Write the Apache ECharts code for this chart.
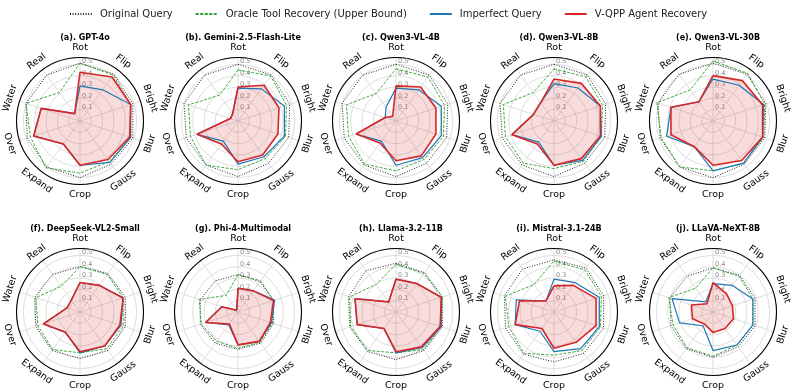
<!DOCTYPE html>
<html>
<head>
<meta charset="utf-8">
<script src="https://cdn.jsdelivr.net/npm/echarts@6/dist/echarts.min.js"></script>
<style>
  html, body { margin: 0; padding: 0; background: #fff; }
  #chart { width: 793px; height: 392px; }
</style>
</head>
<body>
<div id="chart"></div>
<script>
  // axes go clockwise from the top
  const categories = ['Rot', 'Flip', 'Bright', 'Blur', 'Gauss', 'Crop', 'Expand', 'Over', 'Water', 'Real'];
  const models = [
    '(a). GPT-4o', '(b). Gemini-2.5-Flash-Lite', '(c). Qwen3-VL-4B', '(d). Qwen3-VL-8B', '(e). Qwen3-VL-30B',
    '(f). DeepSeek-VL2-Small', '(g). Phi-4-Multimodal', '(h). Llama-3.2-11B', '(i). Mistral-3.1-24B', '(j). LLaVA-NeXT-8B',
  ];
  const ringTicks = [0.1, 0.2, 0.3, 0.4, 0.5];

  const originalQuery = [
    [0.51, 0.51, 0.49, 0.49, 0.47, 0.50, 0.50, 0.49, 0.50, 0.50],
    [0.50, 0.50, 0.48, 0.47, 0.46, 0.49, 0.48, 0.48, 0.50, 0.50],
    [0.50, 0.50, 0.48, 0.47, 0.46, 0.49, 0.48, 0.48, 0.50, 0.50],
    [0.50, 0.50, 0.48, 0.47, 0.46, 0.49, 0.48, 0.48, 0.50, 0.50],
    [0.51, 0.51, 0.49, 0.48, 0.47, 0.50, 0.50, 0.49, 0.51, 0.51],
    [0.40, 0.42, 0.42, 0.42, 0.42, 0.41, 0.42, 0.41, 0.42, 0.41],
    [0.33, 0.33, 0.33, 0.33, 0.34, 0.33, 0.34, 0.35, 0.35, 0.34],
    [0.43, 0.43, 0.43, 0.43, 0.42, 0.42, 0.43, 0.43, 0.44, 0.45],
    [0.46, 0.48, 0.46, 0.46, 0.45, 0.44, 0.46, 0.45, 0.46, 0.47],
    [0.39, 0.40, 0.39, 0.39, 0.38, 0.40, 0.40, 0.39, 0.40, 0.39],
  ];
  const oracleRecovery = [
    [0.51, 0.50, 0.47, 0.47, 0.44, 0.46, 0.51, 0.46, 0.50, 0.31],
    [0.45, 0.49, 0.45, 0.44, 0.41, 0.43, 0.48, 0.44, 0.46, 0.28],
    [0.46, 0.48, 0.45, 0.44, 0.42, 0.44, 0.47, 0.44, 0.46, 0.30],
    [0.46, 0.48, 0.45, 0.44, 0.44, 0.42, 0.46, 0.45, 0.47, 0.31],
    [0.53, 0.52, 0.48, 0.47, 0.46, 0.44, 0.50, 0.48, 0.52, 0.34],
    [0.40, 0.41, 0.40, 0.40, 0.40, 0.36, 0.41, 0.39, 0.41, 0.28],
    [0.33, 0.34, 0.33, 0.32, 0.33, 0.32, 0.32, 0.34, 0.36, 0.18],
    [0.42, 0.42, 0.43, 0.42, 0.41, 0.36, 0.42, 0.42, 0.43, 0.30],
    [0.45, 0.46, 0.44, 0.43, 0.42, 0.38, 0.45, 0.42, 0.45, 0.30],
    [0.39, 0.39, 0.37, 0.37, 0.36, 0.39, 0.39, 0.37, 0.41, 0.26],
  ];
  const imperfectQuery = [
    [0.31, 0.34, 0.47, 0.47, 0.45, 0.39, 0.25, 0.43, 0.36, 0.08],
    [0.29, 0.35, 0.43, 0.43, 0.39, 0.38, 0.22, 0.38, 0.07, 0.08],
    [0.29, 0.34, 0.42, 0.42, 0.40, 0.39, 0.22, 0.37, 0.10, 0.15],
    [0.33, 0.36, 0.43, 0.44, 0.43, 0.39, 0.23, 0.39, 0.19, 0.20],
    [0.37, 0.39, 0.47, 0.46, 0.46, 0.44, 0.28, 0.43, 0.39, 0.21],
    [0.26, 0.29, 0.40, 0.38, 0.37, 0.36, 0.22, 0.34, 0.12, 0.13],
    [0.21, 0.23, 0.34, 0.31, 0.32, 0.29, 0.14, 0.30, 0.15, 0.02],
    [0.29, 0.31, 0.42, 0.42, 0.39, 0.36, 0.18, 0.36, 0.38, 0.11],
    [0.29, 0.32, 0.42, 0.42, 0.40, 0.35, 0.21, 0.36, 0.35, 0.12],
    [0.25, 0.29, 0.37, 0.37, 0.36, 0.34, 0.15, 0.31, 0.38, 0.11],
  ];
  const vqppRecovery = [
    [0.43, 0.48, 0.47, 0.46, 0.42, 0.39, 0.25, 0.43, 0.36, 0.08],
    [0.30, 0.39, 0.38, 0.37, 0.37, 0.36, 0.25, 0.38, 0.07, 0.08],
    [0.31, 0.37, 0.37, 0.37, 0.38, 0.35, 0.24, 0.37, 0.10, 0.05],
    [0.37, 0.41, 0.43, 0.43, 0.41, 0.39, 0.25, 0.39, 0.19, 0.20],
    [0.40, 0.44, 0.46, 0.46, 0.43, 0.39, 0.28, 0.39, 0.39, 0.21],
    [0.26, 0.29, 0.40, 0.37, 0.37, 0.35, 0.22, 0.34, 0.12, 0.13],
    [0.21, 0.23, 0.33, 0.30, 0.32, 0.29, 0.13, 0.30, 0.15, 0.02],
    [0.29, 0.31, 0.42, 0.41, 0.38, 0.35, 0.18, 0.36, 0.38, 0.11],
    [0.23, 0.29, 0.39, 0.39, 0.33, 0.32, 0.18, 0.36, 0.32, 0.12],
    [0.26, 0.20, 0.18, 0.19, 0.18, 0.18, 0.13, 0.19, 0.20, 0.09],
  ];

  const FONT = '"DejaVu Sans", sans-serif';
  const colX = [80, 238, 396, 554, 713];
  const rowY = [121, 312];
  const R = 63.5;
  const RMAX = 0.56;
  const LABEL_R = 0.65;
  const N = categories.length;

  const lines = [
    { name: 'Original Query', data: originalQuery, color: '#222', width: 1, type: [1, 1.6] },
    { name: 'Oracle Tool Recovery (Upper Bound)', data: oracleRecovery, color: '#2ca02c', width: 0.9, type: [3, 1.5] },
    { name: 'Imperfect Query', data: imperfectQuery, color: '#1f77b4', width: 1.2, type: 'solid' },
    { name: 'V-QPP Agent Recovery', data: vqppRecovery, color: '#d62728', width: 1.6, type: 'solid', fill: 'rgba(214,39,40,0.23)' },
  ];

  // polygon: index i -> angle, repeat the first value to close it
  const closeLoop = (vals) => vals.map((v, i) => [v, i]).concat([[vals[0], vals.length]]);

  const polar = [], angleAxis = [], radiusAxis = [], title = [], series = [];

  models.forEach((name, p) => {
    const cx = colX[p % 5], cy = rowY[Math.floor(p / 5)];
    polar.push({ center: [cx, cy], radius: R });
    title.push({
      text: name, left: cx, top: cy - 92, textAlign: 'center',
      textStyle: { fontSize: 8, fontWeight: 'bold', fontFamily: FONT, color: '#000' },
    });
    angleAxis.push({
      polarIndex: p, type: 'value', min: 0, max: N, interval: 1,
      startAngle: 90, clockwise: true,
      axisLine: { lineStyle: { color: '#000', width: 1.1 } },
      axisTick: { show: false },
      axisLabel: { show: false },
      splitLine: { lineStyle: { color: '#d4d4d4', width: 0.8 } },
    });
    radiusAxis.push({
      polarIndex: p, type: 'value', min: 0, max: RMAX, interval: 0.1,
      axisLine: { show: false },
      axisTick: { show: false },
      axisLabel: { show: false },
      splitLine: { lineStyle: { color: '#d4d4d4', width: 0.8 } },
    });

    lines.forEach((l) => {
      series.push({
        type: 'line', name: l.name, coordinateSystem: 'polar', polarIndex: p,
        symbol: 'none', silent: true, animation: false,
        lineStyle: { color: l.color, width: l.width, type: l.type },
        itemStyle: { color: l.color },
        areaStyle: l.fill ? { color: l.fill } : undefined,
        data: closeLoop(l.data[p]),
      });
    });

    // ring values, just right of the Rot spoke
    series.push({
      type: 'custom', name: 'ring-labels', coordinateSystem: 'polar', polarIndex: p,
      silent: true, animation: false,
      data: ringTicks.map((t) => [t, 0]),
      renderItem: (params, api) => {
        const pt = api.coord([api.value(0), api.value(1)]);
        return {
          type: 'text', x: pt[0] + 2, y: pt[1] + 1,
          style: { text: api.value(0).toFixed(1), fill: '#8a8a8a', font: '6.5px ' + FONT, align: 'left', verticalAlign: 'bottom' },
        };
      },
    });

    // category names, turned along the circle like the matplotlib ones
    series.push({
      type: 'custom', name: 'axis-names', coordinateSystem: 'polar', polarIndex: p,
      silent: true, animation: false,
      data: categories.map((c, i) => [LABEL_R, i]),
      renderItem: (params, api) => {
        const i = api.value(1);
        const pt = api.coord([api.value(0), i]);
        const theta = 90 - (360 / N) * i;
        const rot = Math.sin((theta * Math.PI) / 180) > -1e-6 ? theta - 90 : theta + 90;
        return {
          type: 'text', x: pt[0], y: pt[1], rotation: (rot * Math.PI) / 180,
          style: { text: categories[i], fill: '#000', font: '9.5px ' + FONT, align: 'center', verticalAlign: 'middle' },
        };
      },
    });
  });

  const chart = echarts.init(document.getElementById('chart'));
  chart.setOption({
    animation: false,
    title,
    legend: {
      top: 4, left: 64, itemWidth: 22, itemHeight: 10, itemGap: 22,
      data: lines.map((l) => ({ name: l.name, itemStyle: { opacity: 0 } })),
      textStyle: { fontSize: 10, fontFamily: FONT, color: '#222', padding: [0, 0, 0, 3] },
    },
    polar, angleAxis, radiusAxis, series,
  });
</script>
</body>
</html>
